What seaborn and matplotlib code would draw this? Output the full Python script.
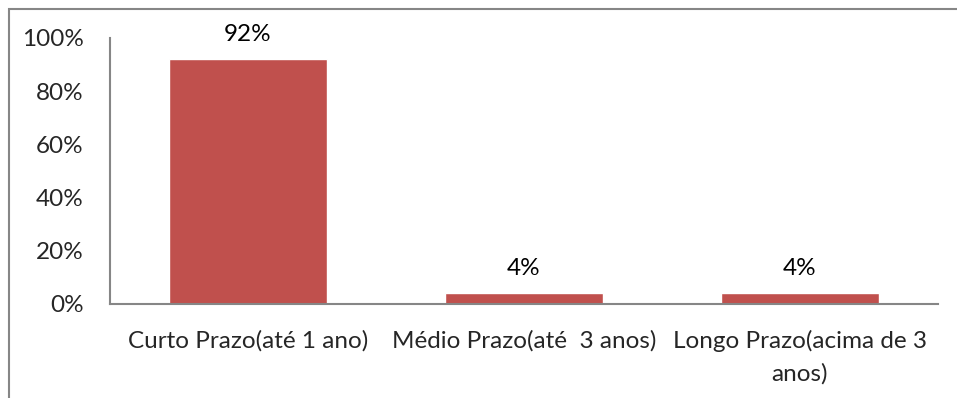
import matplotlib
matplotlib.use("Agg")
import matplotlib.pyplot as plt
import seaborn as sns
import pandas as pd
from matplotlib.patches import Rectangle

categories = ["Curto Prazo(até 1 ano)", "Médio Prazo(até  3 anos)", "Longo Prazo(acima de 3\nanos)"]
values = [92, 4, 4]
value_labels = ["92%", "4%", "4%"]
yticks = [0, 20, 40, 60, 80, 100]
ytick_labels = ["0%", "20%", "40%", "60%", "80%", "100%"]

sns.set_theme(style="white")
plt.rcParams["font.family"] = ["Lato", "DejaVu Sans"]

FS = 17.5
fig = plt.figure(figsize=(9.57, 3.98), dpi=100)
ax = fig.add_axes([110/957, 1-304/398, (938-110)/957, (304-38)/398])

df = pd.DataFrame({"cat": categories, "val": values})
sns.barplot(data=df, x="cat", y="val", color="#C0504D", saturation=1, width=0.57, ax=ax)

ax.set_ylim(0, 100)
ax.set_yticks(yticks)
ax.set_yticklabels(ytick_labels, fontsize=FS)
ax.tick_params(axis="y", length=0, pad=19)
ax.tick_params(axis="x", length=0, pad=19, labelsize=FS)
ax.set_xlabel("")
ax.set_ylabel("")
for lbl in ax.get_xticklabels():
    lbl.set_multialignment("center")
    lbl.set_linespacing(1.6)

for s in ["top", "right"]:
    ax.spines[s].set_visible(False)
for s in ["left", "bottom"]:
    ax.spines[s].set_color("#868686")
    ax.spines[s].set_linewidth(1.5)

for i, (v, t) in enumerate(zip(values, value_labels)):
    ax.annotate(t, (i, v), xytext=(0, 10), textcoords="offset points",
                ha="center", va="bottom", fontsize=FS, color="black")

fig.patches.append(Rectangle((9/957, -0.1), 1.2, 1 - 9/398 + 0.1, transform=fig.transFigure,
                             fill=False, edgecolor="#868686", linewidth=1.5))

fig.savefig("out.png", dpi=100)
